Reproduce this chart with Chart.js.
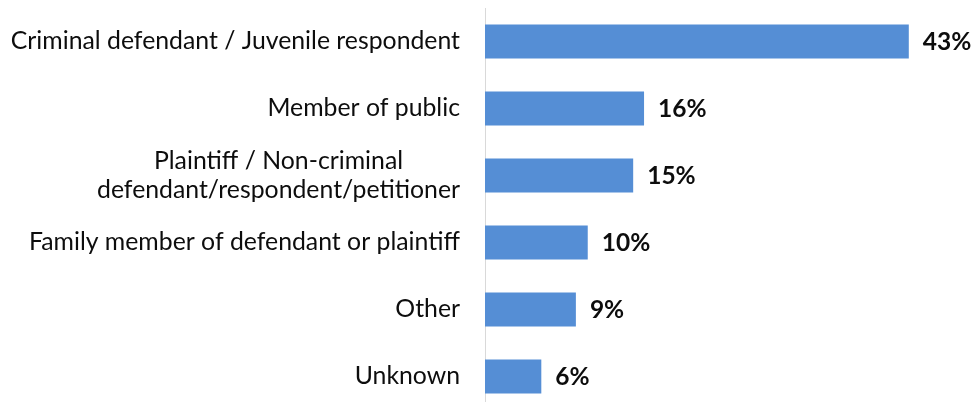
<!DOCTYPE html>
<html>
<head>
<meta charset="utf-8">
<script src="https://cdn.jsdelivr.net/npm/chart.js@4/dist/chart.umd.min.js"></script>
<style>
  html, body { margin: 0; padding: 0; background: #ffffff; overflow: hidden; }
  #wrap { position: relative; width: 974px; height: 410px; }
</style>
</head>
<body>
<div id="wrap"><canvas id="c"></canvas></div>
<script>
// Categories (multi-line labels as arrays)
const categories = [
  "Criminal defendant / Juvenile respondent",
  "Member of public",
  ["Plaintiff / Non-criminal", "defendant/respondent/petitioner"],
  "Family member of defendant or plaintiff",
  "Other",
  "Unknown"
];
// Share of each group (percent)
const shares = [42.9, 16.1, 15.0, 10.4, 9.2, 5.7];
// Printed value labels
const valueLabels = ["43%", "16%", "15%", "10%", "9%", "6%"];

const BAR_COLOR = "#558ed5";
const TEXT_COLOR = "#0d0d0d";
const CAT_FONT = "24.8px Lato";
const VAL_FONT = "bold 24.5px Lato";

const labelPlugin = {
  id: "customLabels",
  afterDraw(chart) {
    const ctx = chart.ctx;
    const yScale = chart.scales.y;
    ctx.save();
    ctx.fillStyle = TEXT_COLOR;
    ctx.font = CAT_FONT;
    ctx.textBaseline = "middle";
    const rightX = yScale.right - 25;
    const lineH = 29;
    categories.forEach((lab, i) => {
      const cy = yScale.getPixelForTick(i);
      if (Array.isArray(lab)) {
        const widths = lab.map(l => ctx.measureText(l).width);
        const maxW = Math.max(...widths);
        const cx = rightX - maxW / 2;
        ctx.textAlign = "center";
        lab.forEach((l, j) => {
          ctx.fillText(l, cx, cy + (j - (lab.length - 1) / 2) * lineH);
        });
      } else {
        ctx.textAlign = "right";
        ctx.fillText(lab, rightX, cy);
      }
    });
    // value labels
    ctx.font = VAL_FONT;
    ctx.textAlign = "left";
    const meta = chart.getDatasetMeta(0);
    meta.data.forEach((bar, i) => {
      ctx.fillText(valueLabels[i], bar.x + 14, bar.y + 1);
    });
    ctx.restore();
  }
};

new Chart(document.getElementById("c"), {
  type: "bar",
  data: {
    labels: categories,
    datasets: [{
      data: shares,
      backgroundColor: BAR_COLOR,
      borderWidth: 0,
      barPercentage: 0.507,
      categoryPercentage: 1.0
    }]
  },
  options: {
    indexAxis: "y",
    responsive: true,
    maintainAspectRatio: false,
    animation: false,
    layout: { padding: { top: 8, right: 0, bottom: 0, left: 0 } },
    plugins: { legend: { display: false }, tooltip: { enabled: false } },
    scales: {
      x: {
        display: false,
        min: 0,
        max: 49.5
      },
      y: {
        grid: { display: false },
        border: { display: true, color: "#d9d9d9", width: 1 },
        ticks: { display: false },
        afterFit(scale) { scale.width = 485; }
      }
    }
  },
  plugins: [labelPlugin]
});
</script>
</body>
</html>
